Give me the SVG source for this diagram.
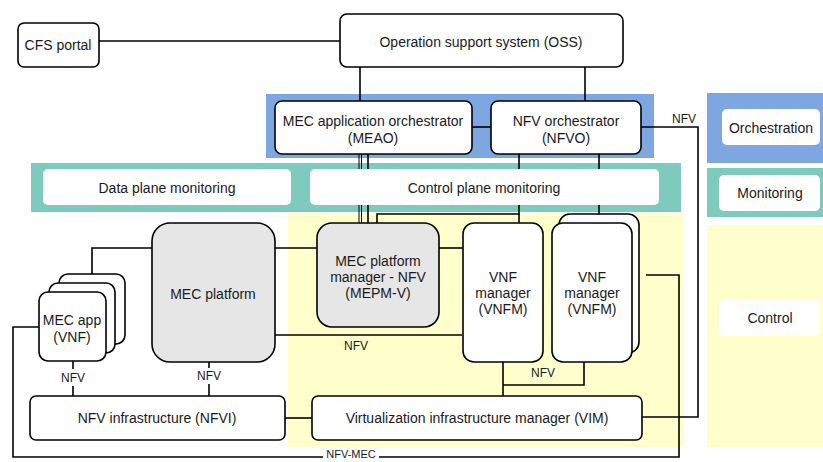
<svg xmlns="http://www.w3.org/2000/svg" width="823" height="462" viewBox="0 0 823 462">
<style>
text{font-family:"Liberation Sans",Arial,sans-serif;font-size:14px;fill:#1a1a1a;text-anchor:middle}
.lbl{font-size:12px}
.sm{font-size:11px}
.box{fill:#fff;stroke:#000;stroke-width:1.6}
.gray{fill:#e6e6e6;stroke:#000;stroke-width:1.6}
.lg{fill:#fff;stroke:none}
.c{fill:none;stroke:#000;stroke-width:1.6}
.t{fill:none;stroke:#000;stroke-width:1}
</style>
<rect width="823" height="462" fill="#fff"/>
<g id="bands">
<rect x="266" y="94" width="388" height="64" fill="#7ea6e0"/>
<rect x="31" y="163" width="650" height="49" fill="#7ecbbd"/>
<rect x="288" y="213" width="395" height="234" fill="#ffffcc"/>
</g>
<g id="legend">
<rect x="707" y="93" width="116" height="70" fill="#7ea6e0"/>
<rect class="lg" x="722" y="109" width="98" height="36" rx="5"/>
<text x="771" y="133">Orchestration</text>
<rect x="707" y="168" width="116" height="49" fill="#7ecbbd"/>
<rect class="lg" x="719" y="175" width="101" height="36" rx="5"/>
<text x="770" y="198">Monitoring</text>
<rect x="707" y="225" width="116" height="222" fill="#ffffcc"/>
<rect class="lg" x="719" y="300" width="101" height="36" rx="5"/>
<text x="770" y="323">Control</text>
</g>
<g id="connectors">
<line class="c" x1="99" y1="41" x2="340" y2="41"/>
<line class="c" x1="360" y1="67" x2="360" y2="101"/>
<line class="c" x1="585" y1="67" x2="585" y2="101"/>
<line class="c" x1="472" y1="127" x2="491" y2="127"/>
<polyline class="c" points="641,127 698,127 698,417 642,417"/>
<line class="t" x1="359" y1="154" x2="359" y2="223"/>
<line class="t" x1="361.5" y1="154" x2="361.5" y2="223"/>
<line class="c" x1="368" y1="154" x2="368" y2="223"/>
<polyline class="c" points="519,154 519,214 377,214 377,223"/>
<line class="c" x1="519" y1="214" x2="519" y2="223"/>
<line class="c" x1="599" y1="154" x2="599" y2="214"/>
<polyline class="c" points="92,274 92,248 152,248"/>
<line class="c" x1="275" y1="248" x2="317" y2="248"/>
<line class="c" x1="439" y1="248" x2="463" y2="248"/>
<line class="c" x1="275" y1="335" x2="462" y2="335"/>
<polyline class="c" points="646,275 679,275 679,457 13,457 13,327 39,327"/>
<line class="c" x1="503" y1="362" x2="503" y2="396"/>
<polyline class="c" points="584,362 584,385 503,385"/>
<line class="c" x1="285" y1="418" x2="312" y2="418"/>
<line class="c" x1="73" y1="361" x2="73" y2="369"/>
<line class="c" x1="73" y1="386" x2="73" y2="396"/>
<line class="c" x1="209" y1="362" x2="209" y2="368"/>
<line class="c" x1="209" y1="384" x2="209" y2="396"/>
<text class="lbl" x="684" y="123">NFV</text>
<text class="lbl" x="356" y="350">NFV</text>
<text class="lbl" x="543" y="377">NFV</text>
<text class="lbl" x="73" y="382">NFV</text>
<text class="lbl" x="209" y="380">NFV</text>
<rect x="323" y="450" width="56" height="12" fill="#fff"/>
<text class="sm" x="351" y="458">NFV-MEC</text>
</g>
<g id="cfs">
<rect class="box" x="18" y="23" width="81" height="44" rx="6"/>
<text x="58" y="50">CFS portal</text>
</g>
<g id="oss">
<rect class="box" x="340" y="14" width="283" height="53" rx="7"/>
<text x="481" y="47">Operation support system (OSS)</text>
</g>
<g id="meao">
<rect class="box" x="275" y="101" width="197" height="53" rx="7"/>
<text x="373" y="126">MEC application orchestrator</text>
<text x="373" y="143">(MEAO)</text>
</g>
<g id="nfvo">
<rect class="box" x="491" y="101" width="150" height="53" rx="7"/>
<text x="566" y="126">NFV orchestrator</text>
<text x="566" y="143">(NFVO)</text>
</g>
<g id="dpm">
<rect class="lg" x="43" y="169" width="248" height="36" rx="5"/>
<text x="167" y="193">Data plane monitoring</text>
</g>
<g id="cpm">
<rect class="lg" x="310" y="169" width="349" height="36" rx="5"/>
<text x="484" y="193">Control plane monitoring</text>
</g>
<g id="mecapp">
<rect class="box" x="59" y="274" width="66" height="70" rx="9"/>
<rect class="box" x="49" y="283" width="66" height="70" rx="9"/>
<rect class="box" x="39" y="292" width="67" height="69" rx="9"/>
<text x="72" y="325">MEC app</text>
<text x="72" y="342">(VNF)</text>
</g>
<g id="mecplatform">
<rect class="gray" x="152" y="223" width="123" height="139" rx="18"/>
<text x="213" y="299">MEC platform</text>
</g>
<g id="mepmv">
<rect class="gray" x="317" y="223" width="122" height="104" rx="15"/>
<text x="378" y="266">MEC platform</text>
<text x="378" y="282">manager - NFV</text>
<text x="378" y="298">(MEPM-V)</text>
</g>
<g id="vnfm1">
<rect class="box" x="463" y="223" width="80" height="139" rx="11"/>
<text x="503" y="282">VNF</text>
<text x="503" y="298">manager</text>
<text x="503" y="314">(VNFM)</text>
</g>
<g id="vnfm2">
<rect class="box" x="559" y="214" width="80" height="139" rx="11"/>
<rect class="box" x="552" y="223" width="80" height="139" rx="11"/>
<text x="592" y="282">VNF</text>
<text x="592" y="298">manager</text>
<text x="592" y="314">(VNFM)</text>
</g>
<g id="nfvi">
<rect class="box" x="30" y="396" width="255" height="44" rx="6"/>
<text x="157" y="423">NFV infrastructure (NFVI)</text>
</g>
<g id="vim">
<rect class="box" x="312" y="396" width="330" height="44" rx="6"/>
<text x="477" y="423">Virtualization infrastructure manager (VIM)</text>
</g>
</svg>
